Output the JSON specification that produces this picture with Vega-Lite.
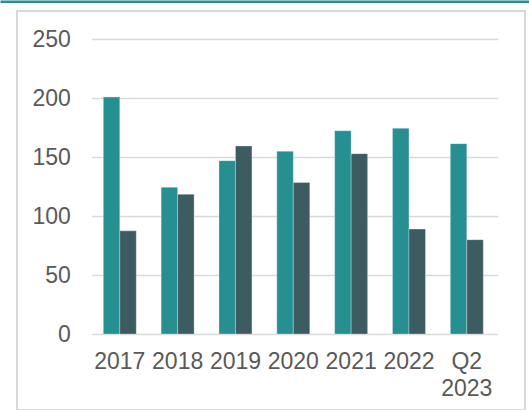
{
  "$schema": "https://vega.github.io/schema/vega-lite/v6.json",
  "autosize": {"type": "none"},
  "padding": {"left": 17, "top": 11, "right": 4, "bottom": 0},
  "width": 508,
  "height": 399,
  "config": {
    "view": {"stroke": "#d9d9d9", "strokeWidth": 2},
    "font": "Liberation Sans"
  },
  "data": {
    "values": [
      {"period": "2017", "series": "Series 1", "value": 201},
      {"period": "2017", "series": "Series 2", "value": 87.5},
      {"period": "2018", "series": "Series 1", "value": 124.5},
      {"period": "2018", "series": "Series 2", "value": 118.5},
      {"period": "2019", "series": "Series 1", "value": 147},
      {"period": "2019", "series": "Series 2", "value": 159.5},
      {"period": "2020", "series": "Series 1", "value": 155},
      {"period": "2020", "series": "Series 2", "value": 128.5},
      {"period": "2021", "series": "Series 1", "value": 172.5},
      {"period": "2021", "series": "Series 2", "value": 153},
      {"period": "2022", "series": "Series 1", "value": 174.5},
      {"period": "2022", "series": "Series 2", "value": 89},
      {"period": "Q2 2023", "series": "Series 1", "value": 161.5},
      {"period": "Q2 2023", "series": "Series 2", "value": 80}
    ]
  },
  "layer": [
    {
      "mark": {"type": "bar", "stroke": "#ffffff", "strokeWidth": 0.6, "strokeOpacity": 0.5},
      "encoding": {
        "x": {
          "field": "period", "type": "nominal", "sort": null,
          "scale": {"paddingInner": 0.43, "paddingOuter": 0, "range": [86.3, 466.3]},
          "axis": {
            "orient": "bottom", "offset": -76, "domain": false, "ticks": false,
            "labelPadding": 16.3, "labelAngle": 0, "labelFontSize": 23,
            "labelColor": "#595959", "labelLineHeight": 27.5,
            "labelExpr": "datum.label == 'Q2 2023' ? ['Q2', '2023'] : datum.label",
            "title": null
          }
        },
        "xOffset": {"field": "series", "type": "nominal", "sort": null},
        "y": {
          "field": "value", "type": "quantitative",
          "scale": {"domain": [-64.47, 274.01], "nice": false, "zero": false},
          "axis": {
            "orient": "left", "offset": -74.7, "values": [0, 50, 100, 150, 200, 250],
            "domain": false, "grid": false, "tickSize": -406, "tickColor": "#d9d9d9",
            "tickWidth": 1.5, "labelPadding": 427.4, "labelFontSize": 23,
            "labelColor": "#595959", "title": null
          }
        },
        "y2": {"datum": 0},
        "color": {
          "field": "series", "type": "nominal",
          "scale": {"domain": ["Series 1", "Series 2"], "range": ["#258f91", "#3c5c62"]},
          "legend": null
        }
      }
    },
    {
      "mark": {"type": "bar", "opacity": 0},
      "encoding": {
        "x": {
          "field": "period", "type": "nominal", "sort": null,
          "scale": {"range": [-17, 512]},
          "axis": {
            "orient": "top", "offset": 9.8, "domainColor": "#26908f", "domainWidth": 2.5,
            "ticks": false, "labels": false, "title": null
          }
        }
      }
    }
  ],
  "resolve": {"scale": {"x": "independent"}, "axis": {"x": "independent"}}
}
